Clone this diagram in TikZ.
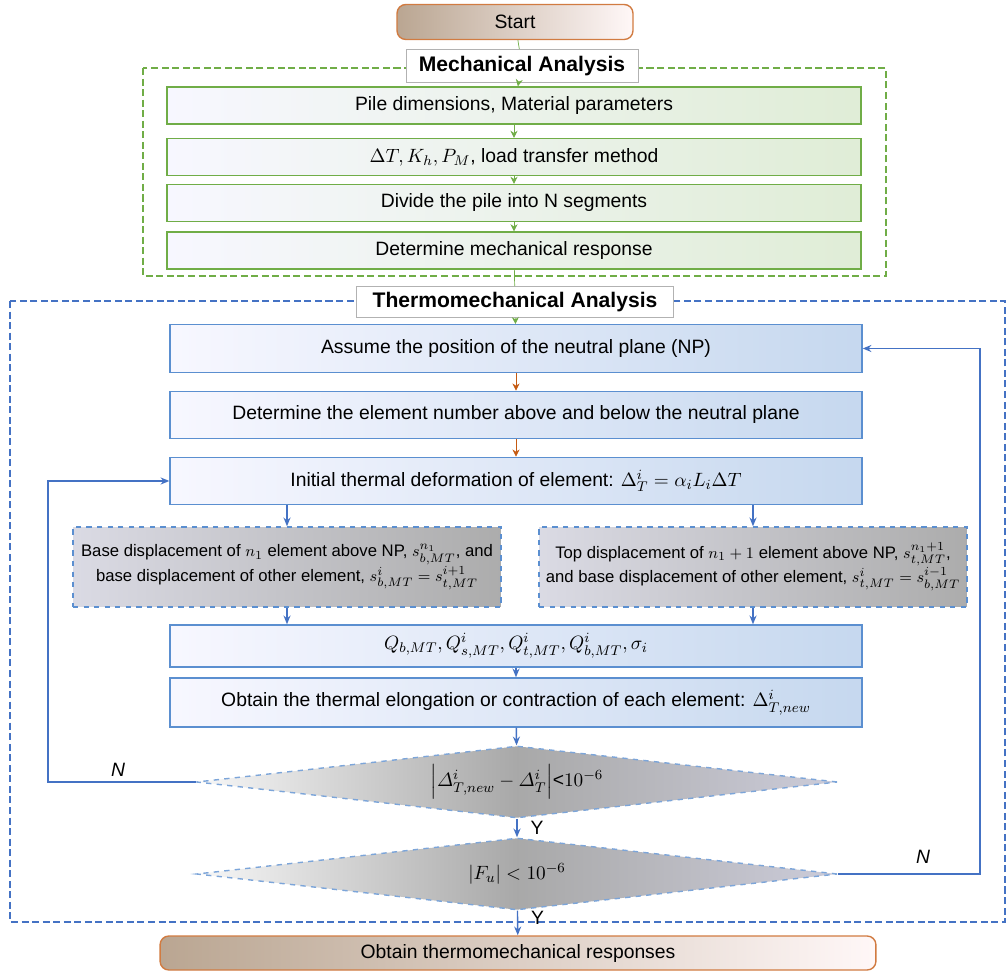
\documentclass[tikz,border=0pt]{standalone}
\usepackage{amsmath}
\usepackage{fontspec}
\setmainfont{Liberation Sans}
\usetikzlibrary{shapes.geometric,arrows.meta,backgrounds}

\definecolor{mechgreen}{HTML}{70AD47}
\definecolor{thermblue}{HTML}{4472C4}
\definecolor{boxblue}{HTML}{5B8FD0}
\definecolor{rust}{HTML}{C55A11}

\tikzset{every startbox/.style={rectangle, rounded corners=5pt, draw=rust!80, thick,
                                left color=brown!45!gray!70, right color=red!3,
                                minimum height=0.7cm, font=\fontsize{11}{13}\selectfont},
        titlebox/.style={rectangle, draw=gray!60, fill=white, inner sep=2pt,
                         font=\bfseries\fontsize{12}{14}\selectfont},
        greenbox/.style={rectangle, draw=mechgreen, thick, left color=blue!3,
                         right color=mechgreen!22, minimum width=13.88cm,
                         minimum height=0.74cm, font=\fontsize{11}{13}\selectfont},
        bluebox/.style={rectangle, draw=boxblue, thick, left color=blue!3,
                        right color=boxblue!35, minimum width=13.84cm,
                        minimum height=0.95cm, font=\fontsize{11}{13}\selectfont},
        graybox/.style={rectangle, dashed, draw=boxblue, thick, left color=blue!15!gray!25,
                        right color=gray!65, minimum width=8.56cm, minimum height=1.6cm,
                        align=center, font=\fontsize{9.5}{12}\selectfont},
        decision/.style={diamond, aspect=9, dashed, draw=boxblue!80, thick, inner sep=0pt,
                         left color=gray!6, right color=blue!15!gray!35,
                         middle color=gray!68, minimum width=12.82cm,
                         minimum height=1.44cm, font=\fontsize{11}{13}\selectfont},
        frame/.style={line width=1.6pt, dash pattern=on 4pt off 2pt},
        gflow/.style={draw=mechgreen, -{Stealth[length=4pt,width=4pt]}},
        oflow/.style={draw=rust, -{Stealth[length=4pt,width=4pt]}},
        bflow/.style={draw=thermblue, thick, -{Stealth[length=5pt,width=4pt]}},
        answer/.style={font=\itshape\fontsize{11}{13}\selectfont},
        }

\begin{document}
\begin{tikzpicture}[x=0.02cm, y=-0.02cm]
    \useasboundingbox (0,0) rectangle (1007,972);

    \draw [mechgreen, frame] (143,68) rectangle (886,276);
    \draw [thermblue, frame] (10,301) rectangle (1005,922);

    \node [every startbox, minimum width=4.72cm] (start) at (515,22) {Start};
    \node [titlebox, minimum width=4.64cm, minimum height=0.66cm] (mech) at (522,66) {Mechanical Analysis};

    \node [greenbox] (pile) at (514,105.5) {Pile dimensions, Material parameters};
    \node [greenbox] (load) at (514,157) {$\Delta T, K_h, P_M$, load transfer method};
    \node [greenbox] (divide) at (514,203) {Divide the pile into N segments};
    \node [greenbox] (mresp) at (514,250.5) {Determine mechanical response};

    \node [titlebox, minimum width=6.34cm, minimum height=0.62cm] (therm) at (515,302) {Thermomechanical Analysis};

    \node [bluebox] (assume) at (516,348.5) {Assume the position of the neutral plane (NP)};
    \node [bluebox] (elnum) at (516,415) {Determine the element number above and below the neutral plane};
    \node [bluebox] (init) at (516,481) {Initial thermal deformation of element: $\Delta_T^i=\alpha_i L_i\Delta T$};

    \node [graybox] (basedisp) at (287,567) {Base displacement of $n_1$ element above NP, $s_{b,MT}^{n_1}$, and\\
        base displacement of other element, $s_{b,MT}^{i}=s_{t,MT}^{i+1}$};
    \node [graybox] (topdisp) at (753,567) {Top displacement of $n_1+1$ element above NP, $s_{t,MT}^{n_1+1}$,\\
        and base displacement of other element, $s_{t,MT}^{i}=s_{b,MT}^{i-1}$};

    \node [bluebox, minimum height=0.84cm] (forces) at (516,646) {$Q_{b,MT}, Q_{s,MT}^i, Q_{t,MT}^i, Q_{b,MT}^i, \sigma_i$};
    \node [bluebox, minimum height=0.98cm] (elong) at (516,702.5) {Obtain the thermal elongation or contraction of each element: $\Delta_{T,new}^i$};

    \node [decision] (conv) at (517,782) {$\left|\varDelta^i_{T,new}-\varDelta^i_T\right|$<$10^{-6}$};
    \node [decision] (force) at (517,874) {$|F_u|<10^{-6}$};

    \node [every startbox, minimum width=14.32cm, minimum height=0.68cm] (final) at (518,953) {Obtain thermomechanical responses};

    \coordinate (lft) at (48,782);
    \coordinate (rgt) at (980,874);

    \draw [mechgreen] (start) -- (mech);
    \draw [gflow] (mech) -- (pile);
    \draw [gflow] (pile) -- (load);
    \draw [gflow] (load) -- (divide);
    \draw [gflow] (divide) -- (mresp);
    \draw [mechgreen] (mresp) -- (therm);
    \draw [gflow] (therm) -- (assume);
    \draw [oflow] (assume) -- (elnum);
    \draw [oflow] (elnum) -- (init);

    \draw [bflow] (init.south -| basedisp.north) -- (basedisp.north);
    \draw [bflow] (init.south -| topdisp.north) -- (topdisp.north);
    \draw [bflow] (basedisp.south) -- (basedisp.south |- forces.north);
    \draw [bflow] (topdisp.south) -- (topdisp.south |- forces.north);
    \draw [bflow] (forces) -- (elong);
    \draw [bflow] (elong) -- (conv);
    \draw [bflow] (conv) -- (force) node [midway, right=4pt, font=\fontsize{11}{13}\selectfont] {Y};
    \draw [bflow] (force) -- (final) node [pos=0.3, right=4pt, font=\fontsize{11}{13}\selectfont] {Y};

    \draw [bflow] (conv.west) -- (lft) |- (init.west);
    \draw [bflow] (force.east) -- (rgt) |- (assume.east);
    \node [answer] at (118,770) {N};
    \node [answer] at (923,857) {N};
\end{tikzpicture}
\end{document}
